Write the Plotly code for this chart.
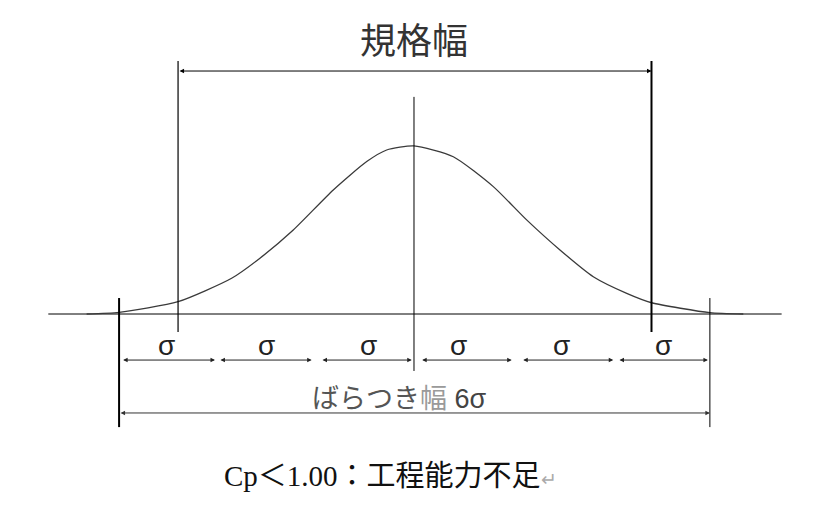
import plotly.graph_objects as go

# ---- data (x in sigma units from the mean, y = relative density, peak = 1) ----
curve_x = [-3.33, -3.00, -2.40, -1.855, -1.567, -1.228, -0.821, -0.481, -0.278, 0.0,
           0.40, 0.807, 1.146, 1.485, 1.824, 2.164, 2.418, 3.01, 3.35]
curve_y = [0.0, 0.010, 0.073, 0.2125, 0.332, 0.50, 0.738, 0.907, 0.976, 1.0,
           0.936, 0.758, 0.56, 0.381, 0.222, 0.123, 0.067, 0.008, 0.0]

axis_extent = [-3.72, 3.74]          # horizontal axis line
mean_x = 0.0
lsl, usl = -2.40, 2.416              # specification limits
minus3, plus3 = -3.0, 3.01           # ±3σ limits
seg_start = [-2.974, -1.984, -0.946, 0.068, 1.096, 2.075]
seg_end = [-2.024, -1.041, -0.023, 0.994, 2.027, 2.99]
sigma_label_x = [-2.516, -1.498, -0.465, 0.451, 1.502, 2.536]
sigma_label = "σ"
spec_label = "規格幅"
spread_label = ["ばらつき", "幅", " 6σ"]
bottom_label = ["Cp＜1.00：工程能力不足", "↵"]

# vertical extents (in y units)
mean_line_y = [-0.339, 1.292]
spec_line_y = [-0.107, 1.506]
sig3_line_y = [-0.673, 0.095]
spec_arrow_y = 1.446
sigma_arrow_y = -0.274
spread_arrow_y = -0.589
sigma_text_y = -0.185
spread_text_y = -0.506
spec_text_y = 1.643
bottom_text_y = -0.964

fig = go.Figure()

def vline(x, ys, width):
    fig.add_trace(go.Scatter(x=[x, x], y=ys, mode="lines",
                             line=dict(color="#000000", width=width),
                             hoverinfo="skip", showlegend=False))

# baseline
fig.add_trace(go.Scatter(x=axis_extent, y=[0, 0], mode="lines",
                         line=dict(color="#000000", width=1),
                         hoverinfo="skip", showlegend=False))
# curve
fig.add_trace(go.Scatter(x=curve_x, y=curve_y, mode="lines",
                         line=dict(color="#3a3a3a", width=1.3, shape="spline", smoothing=0.6),
                         hoverinfo="skip", showlegend=False))
vline(mean_x, mean_line_y, 1)
vline(lsl, spec_line_y, 1.2)
vline(usl, spec_line_y, 2)
vline(minus3, sig3_line_y, 2)
vline(plus3, sig3_line_y, 1)

def darrow(x0, x1, y, color="#000000", width=1):
    fig.add_annotation(x=x1, y=y, ax=x0, ay=y, xref="x", yref="y", axref="x", ayref="y",
                       text="", showarrow=True, arrowside="end+start",
                       arrowhead=2, startarrowhead=2, arrowsize=0.9, startarrowsize=0.9,
                       arrowwidth=width, arrowcolor=color)

darrow(lsl, usl, spec_arrow_y)
for s, e in zip(seg_start, seg_end):
    darrow(s, e, sigma_arrow_y, color="#222222")
darrow(minus3, plus3, spread_arrow_y, color="#333333")

for sx in sigma_label_x:
    fig.add_annotation(x=sx, y=sigma_text_y, xref="x", yref="y", text=sigma_label,
                       showarrow=False, font=dict(family="Liberation Sans, Arial", size=28, color="#222222"))

fig.add_annotation(x=mean_x, y=spec_text_y, xref="x", yref="y", text=spec_label, showarrow=False,
                   font=dict(family="Noto Sans CJK JP", size=36, color="#333333"))

fig.add_annotation(x=-0.15, y=spread_text_y, xref="x", yref="y", showarrow=False,
                   text=(f"<span style='color:#555555'>{spread_label[0]}</span>"
                         f"<span style='color:#9a9a9a'>{spread_label[1]}</span>"
                         f"<span style='color:#444444'>{spread_label[2]}</span>"),
                   font=dict(family="Liberation Sans, Noto Sans CJK JP", size=27, color="#444444"))

fig.add_annotation(x=-1.953, y=bottom_text_y, xref="x", yref="y", xanchor="left", showarrow=False,
                   text=(f"{bottom_label[0]}"
                         f"<span style='color:#aaaaaa;font-size:19px'>{bottom_label[1]}</span>"),
                   font=dict(family="Liberation Serif, Noto Sans CJK JP", size=29, color="#111111"))

# the page body adds an 8px offset, so the figure is 8px smaller and ranges start 8px later
fig.update_layout(width=820, height=509, margin=dict(l=0, r=0, t=0, b=0),
                  paper_bgcolor="white", plot_bgcolor="white", showlegend=False)
fig.update_xaxes(range=[-4.130, 4.2116], visible=False, fixedrange=True)
fig.update_yaxes(range=[-1.208, 1.821], visible=False, fixedrange=True)

fig.write_html("out.html")
